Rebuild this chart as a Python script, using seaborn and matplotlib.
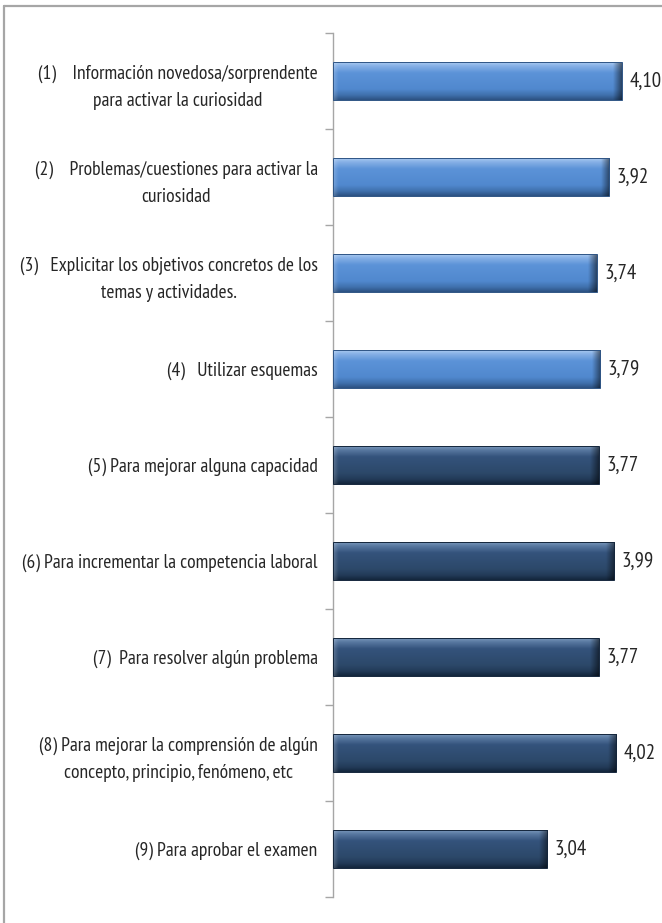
import numpy as np
import pandas as pd
import matplotlib
matplotlib.use("Agg")
import matplotlib.pyplot as plt
import seaborn as sns
from matplotlib.lines import Line2D
from matplotlib.colors import LinearSegmentedColormap

categorias = [
    "(1)    Información novedosa/sorprendente\npara activar la curiosidad",
    "(2)    Problemas/cuestiones para activar la\ncuriosidad",
    "(3)   Explicitar los objetivos concretos de los\ntemas y actividades.",
    "(4)   Utilizar esquemas",
    "(5) Para mejorar alguna capacidad",
    "(6) Para incrementar la competencia laboral",
    "(7)  Para resolver algún problema",
    "(8) Para mejorar la comprensión de algún\nconcepto, principio, fenómeno, etc",
    "(9) Para aprobar el examen",
]
valores = [4.10, 3.92, 3.74, 3.79, 3.77, 3.99, 3.77, 4.02, 3.04]
grupos = ["A", "A", "A", "A", "B", "B", "B", "B", "B"]
etiquetas_valor = ["4,10", "3,92", "3,74", "3,79", "3,77", "3,99", "3,77", "4,02", "3,04"]

sns.set_theme(style="white")
plt.rcParams["font.family"] = ["PT Sans Narrow", "DejaVu Sans"]

df = pd.DataFrame({"cat": categorias, "val": valores, "grp": grupos})

fig = plt.figure(figsize=(6.62, 9.23), dpi=100)
ax = fig.add_axes([333 / 662, 1 - 897 / 923, 322 / 662, 864 / 923])

base = {"A": "#558ED5", "B": "#2D4A6E"}
sns.barplot(data=df, x="val", y="cat", hue="grp", palette=base, dodge=False,
            orient="h", width=0.39, legend=False, ax=ax, saturation=1)

ax.set_xlim(0, 4.57)
ax.set_ylim(8.5, -0.5)

grad_cols = {
    "A": [(0.0, "#A8C9F0"), (0.1, "#86B0E6"), (0.28, "#5C93D8"), (0.72, "#5088CE"), (0.88, "#3F6FAB"), (1.0, "#2C5282")],
    "B": [(0.0, "#7896BA"), (0.1, "#5878A0"), (0.28, "#34537C"), (0.72, "#2C4869"), (0.88, "#223A57"), (1.0, "#14263C")],
}
patches = sorted(ax.patches, key=lambda p: p.get_y())
for p, g, lab in zip(patches, grupos, etiquetas_valor):
    cmap = LinearSegmentedColormap.from_list("g" + g, [c for _, c in grad_cols[g]])
    stops = [s for s, _ in grad_cols[g]]
    n, m = 80, 240
    t = np.linspace(0, 1, n)
    tt = np.interp(t, stops, np.linspace(0, 1, len(stops)))
    img = cmap(tt[:, None] * np.ones((1, m)))[..., :3]
    x0, y0, w, h = p.get_x(), p.get_y(), p.get_width(), p.get_height()
    xs = np.linspace(x0, x0 + w, m)
    bev = 0.12
    dark = np.clip((xs - (x0 + w - bev)) / bev, 0, 1)[None, :]
    img = img * (1 - 0.5 * dark[..., None])
    light = np.clip(((x0 + bev * 0.6) - xs) / (bev * 0.6), 0, 1)[None, :]
    img = img + (1 - img) * 0.2 * light[..., None]
    im = ax.imshow(img, extent=[x0, x0 + w, y0 + h, y0], aspect="auto",
                   interpolation="bilinear", zorder=3)
    im.set_clip_path(p)
    p.set_edgecolor("#14263C" if g == "B" else "#2F5585")
    p.set_linewidth(0.7)
    p.set_zorder(4)
    p.set_facecolor("none")
    ax.annotate(lab, (x0 + w, y0 + h / 2), xytext=(5.5, 0), textcoords="offset points",
                ha="left", va="center", fontsize=15, color="#262626")

ax.set_xlabel("")
ax.set_ylabel("")
ax.set_xticks([])
ax.tick_params(axis="y", which="major", length=0, pad=11, labelsize=14, labelcolor="#262626")
for tl in ax.get_yticklabels():
    tl.set_multialignment("center")
    tl.set_linespacing(1.6)
ax.set_yticks(np.arange(-0.5, 9.0, 1.0), minor=True)
ax.tick_params(axis="y", which="minor", length=6, width=1, color="#A6A6A6", direction="out", left=True)
for s in ["top", "right", "bottom"]:
    ax.spines[s].set_visible(False)
ax.spines["left"].set_color("#A6A6A6")
ax.spines["left"].set_linewidth(1)

fig.add_artist(Line2D([4 / 662, 1.0], [1 - 6 / 923, 1 - 6 / 923], transform=fig.transFigure,
                      color="#A6A6A6", lw=1.6))
fig.add_artist(Line2D([4 / 662, 4 / 662], [0, 1 - 6 / 923], transform=fig.transFigure,
                      color="#A6A6A6", lw=1.6))

fig.savefig("out.png", dpi=100)
